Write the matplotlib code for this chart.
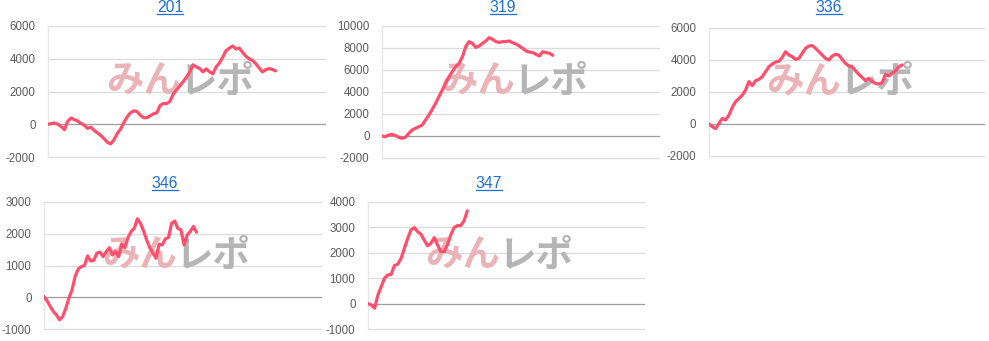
import numpy as np
import matplotlib
matplotlib.use('Agg')
import matplotlib.pyplot as plt
from matplotlib.lines import Line2D

# machine numbers (titles)
titles = ['201', '319', '336', '346', '347']

# cumulative difference series
s201 = [0, 40, 80, 0, -150, -330, 190, 380, 280, 200, 50, -60, -250, -180, -380,
        -520, -680, -880, -1100, -1200, -950, -570, -300, 100, 450, 700, 820, 780,
        550, 400, 400, 520, 640, 700, 1150, 1270, 1260, 1400, 1850, 2100, 2350,
        2600, 2880, 3200, 3630, 3500, 3400, 3200, 3380, 3200, 3080, 3500, 3750,
        4100, 4500, 4650, 4780, 4600, 4650, 4400, 4150, 4000, 3900, 3700, 3450,
        3200, 3330, 3400, 3350, 3260]
s319 = [0, -60, 90, 150, 50, -120, -210, -120, 240, 545, 700, 850, 1000, 1450,
        1900, 2420, 2970, 3580, 4180, 4790, 5390, 5850, 6300, 6600, 7200, 8120,
        8580, 8420, 8060, 8180, 8420, 8640, 8940, 8790, 8580, 8510, 8580, 8580,
        8640, 8480, 8360, 8180, 7970, 7730, 7640, 7580, 7420, 7270, 7670, 7580,
        7520, 7330]
s336 = [0, -170, -290, 40, 350, 250, 560, 1040, 1400, 1600, 1810, 2125, 2650,
        2400, 2710, 2790, 2960, 3270, 3580, 3750, 3875, 3920, 4170, 4520, 4310,
        4210, 4040, 4100, 4420, 4730, 4875, 4900, 4730, 4520, 4310, 4100, 4000,
        4250, 4350, 4310, 4040, 3790, 3625, 3580, 3330, 3100, 2920, 2710, 2850,
        2650, 2540, 2500, 2580, 3100, 3000, 3170, 3310, 3580, 3690]
s346 = [20, -115, -290, -450, -555, -710, -610, -350, -30, 230, 650, 890, 965,
        1000, 1300, 1140, 1165, 1390, 1420, 1280, 1440, 1560, 1330, 1440, 1280,
        1670, 1560, 1880, 2070, 2170, 2470, 2330, 2090, 1800, 1560, 1390, 1230,
        1670, 1650, 1840, 1880, 2330, 2400, 2170, 2120, 1650, 1960, 2070, 2230,
        2050]
s347 = [0, -50, -180, 340, 670, 1000, 1130, 1150, 1500, 1550, 1780, 2180, 2570,
        2900, 2990, 2830, 2730, 2500, 2280, 2370, 2600, 2310, 2050, 2050, 2310,
        2700, 2990, 3070, 3070, 3250, 3650]
series = [s201, s319, s336, s346, s347]

y_ranges = [(-2000, 6000), (-2000, 10000), (-2000, 6000), (-1000, 3000), (-1000, 4000)]
y_steps = [2000, 2000, 2000, 1000, 1000]
x_max = [84, 82.7, 82.6, 89, 83.4]

W, H = 989, 341
# plot boxes in pixels: left, top, right, bottom
boxes = [(48, 26, 325, 157), (382, 26, 659, 158), (709, 28, 984, 156),
         (44, 202, 321, 329), (368, 202, 644, 329)]
title_pos = [(170, 12), (503, 12), (829, 12), (165, 188), (489, 188)]

line_color = '#ff4f6d'
title_color = '#1b6fd5'

plt.rcParams['font.family'] = ['Liberation Sans', 'DejaVu Sans']
fig = plt.figure(figsize=(W / 100, H / 100), dpi=100)

title_texts = []
for i in range(5):
    l, t, r, b = boxes[i]
    ax = fig.add_axes([l / W, 1 - b / H, (r - l) / W, (b - t) / H])
    ax.set_zorder(1)
    ax.patch.set_alpha(0)
    lo, hi = y_ranges[i]
    ticks = np.arange(lo, hi + 1, y_steps[i])
    ax.set_ylim(lo, hi)
    ax.set_xlim(0, x_max[i])
    ax.set_yticks(ticks)
    ax.set_yticklabels([str(v) for v in ticks])
    ax.set_xticks([])
    for sp in ['top', 'right', 'bottom']:
        ax.spines[sp].set_visible(False)
    ax.spines['left'].set_color('#e6e6e6')
    ax.spines['left'].set_linewidth(0.9)
    ax.tick_params(axis='y', length=0, pad=9, labelsize=8.3, labelcolor='#5c5c5c')
    for v in ticks:
        c = '#9e9e9e' if v == 0 else '#dcdcdc'
        ax.axhline(v, color=c, lw=0.9, zorder=1, clip_on=False)

    # watermark
    ax.text(0.48, 0.58, 'みん', transform=ax.transAxes, ha='right', va='center',
            fontsize=27, fontweight='bold', color='#eab3b7', zorder=2,
            family=['Noto Sans CJK JP', 'DejaVu Sans'])
    ax.text(0.475, 0.58, 'レポ', transform=ax.transAxes, ha='left', va='center',
            fontsize=27, fontweight='bold', color='#b5b5b5', zorder=2,
            family=['Noto Sans CJK JP', 'DejaVu Sans'])

    y = series[i]
    ax.plot(np.arange(len(y)), y, color=line_color, lw=2.3, zorder=3,
            solid_joinstyle='round', solid_capstyle='round')

    cx, by = title_pos[i]
    tt = fig.text(cx / W, 1 - by / H, titles[i], ha='center', va='baseline',
                  fontsize=11.3, color=title_color)
    title_texts.append(tt)

# underline the titles (they are links)
fig.canvas.draw()
for tt in title_texts:
    bb = tt.get_window_extent()
    cx, cy = tt.get_position()
    yl = cy - 1.6 / H
    fig.add_artist(Line2D([bb.x0 / W, bb.x1 / W], [yl, yl], color=title_color,
                          lw=0.9, transform=fig.transFigure))

fig.savefig('out.png', dpi=100)
